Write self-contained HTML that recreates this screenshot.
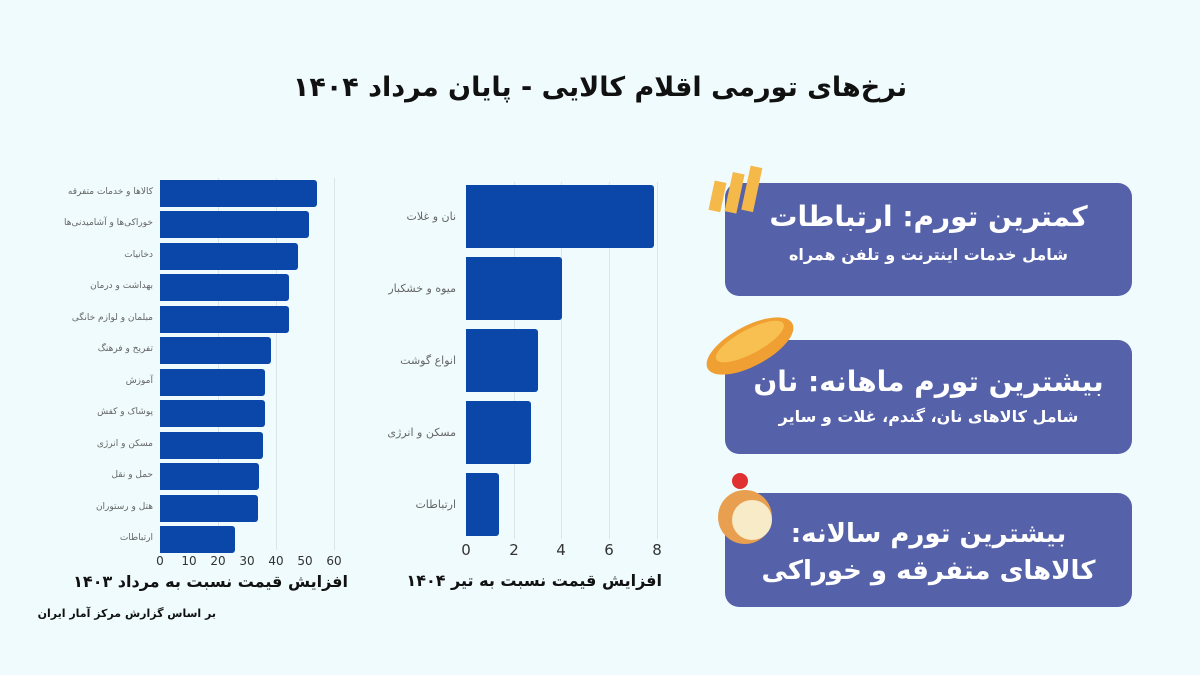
<!DOCTYPE html>
<html><head><meta charset="utf-8"><style>
body{margin:0;width:1200px;height:675px;background:#effbfd;position:relative;overflow:hidden;font-family:"DejaVu Sans","Liberation Sans",sans-serif}
.a{position:absolute}
.bar{position:absolute;background:#0b47a8;border-radius:0 3px 3px 0}
.lbl{position:absolute;font-size:9px;color:#666;text-align:right;direction:rtl;white-space:nowrap;letter-spacing:1px}
.tick{position:absolute;font-size:13px;color:#333;width:30px;text-align:center}
.grid{position:absolute;width:1px;background:#dde3ea}
.card{position:absolute;left:725px;width:407px;background:#5561a9;border-radius:14px;color:#fff;text-align:center;direction:rtl}
.h{font-weight:bold;font-size:28px}
.s{font-size:16px;font-weight:bold}
.ax{position:absolute;font-weight:bold;font-size:16px;direction:rtl;white-space:nowrap;color:#111}
</style></head><body>
<div class="a" style="left:0;width:1200px;top:72px;text-align:center;font-size:27px;font-weight:bold;direction:rtl;color:#111">نرخ‌های تورمی اقلام کالایی - پایان مرداد ۱۴۰۴</div>

<!-- left chart -->
<div class="grid" style="left:218px;top:178px;height:372px"></div>
<div class="grid" style="left:276px;top:178px;height:372px"></div>
<div class="grid" style="left:334px;top:178px;height:372px"></div>
<div class="bar" style="left:160px;top:180px;width:157px;height:27px"></div>
<div class="bar" style="left:160px;top:211px;width:149px;height:27px"></div>
<div class="bar" style="left:160px;top:243px;width:138px;height:27px"></div>
<div class="bar" style="left:160px;top:274px;width:129px;height:27px"></div>
<div class="bar" style="left:160px;top:306px;width:129px;height:27px"></div>
<div class="bar" style="left:160px;top:337px;width:111px;height:27px"></div>
<div class="bar" style="left:160px;top:369px;width:105px;height:27px"></div>
<div class="bar" style="left:160px;top:400px;width:105px;height:27px"></div>
<div class="bar" style="left:160px;top:432px;width:103px;height:27px"></div>
<div class="bar" style="left:160px;top:463px;width:99px;height:27px"></div>
<div class="bar" style="left:160px;top:495px;width:98px;height:27px"></div>
<div class="bar" style="left:160px;top:526px;width:75px;height:27px"></div>
<div class="lbl" style="right:1047px;top:187px">کالاها و خدمات متفرقه</div>
<div class="lbl" style="right:1047px;top:218px">خوراکی‌ها و آشامیدنی‌ها</div>
<div class="lbl" style="right:1047px;top:250px">دخانیات</div>
<div class="lbl" style="right:1047px;top:281px">بهداشت و درمان</div>
<div class="lbl" style="right:1047px;top:313px">مبلمان و لوازم خانگی</div>
<div class="lbl" style="right:1047px;top:344px">تفریح و فرهنگ</div>
<div class="lbl" style="right:1047px;top:376px">آموزش</div>
<div class="lbl" style="right:1047px;top:407px">پوشاک و کفش</div>
<div class="lbl" style="right:1047px;top:439px">مسکن و انرژی</div>
<div class="lbl" style="right:1047px;top:470px">حمل و نقل</div>
<div class="lbl" style="right:1047px;top:502px">هتل و رستوران</div>
<div class="lbl" style="right:1047px;top:533px">ارتباطات</div>
<div class="tick" style="left:145px;top:554px;font-size:12px">0</div>
<div class="tick" style="left:174px;top:554px;font-size:12px">10</div>
<div class="tick" style="left:203px;top:554px;font-size:12px">20</div>
<div class="tick" style="left:232px;top:554px;font-size:12px">30</div>
<div class="tick" style="left:261px;top:554px;font-size:12px">40</div>
<div class="tick" style="left:290px;top:554px;font-size:12px">50</div>
<div class="tick" style="left:319px;top:554px;font-size:12px">60</div>
<div class="ax" style="right:852px;top:572px">افزایش قیمت نسبت به مرداد ۱۴۰۳</div>
<div class="a" style="right:984px;top:607px;font-size:11px;font-weight:bold;direction:rtl;color:#111">بر اساس گزارش مرکز آمار ایران</div>

<!-- right chart -->
<div class="grid" style="left:514px;top:182px;height:357px"></div>
<div class="grid" style="left:561px;top:182px;height:357px"></div>
<div class="grid" style="left:609px;top:182px;height:357px"></div>
<div class="grid" style="left:657px;top:182px;height:357px"></div>
<div class="bar" style="left:466px;top:185px;width:188px;height:63px"></div>
<div class="bar" style="left:466px;top:257px;width:96px;height:63px"></div>
<div class="bar" style="left:466px;top:329px;width:72px;height:63px"></div>
<div class="bar" style="left:466px;top:401px;width:65px;height:63px"></div>
<div class="bar" style="left:466px;top:473px;width:33px;height:63px"></div>
<div class="lbl" style="right:744px;top:210px;font-size:11px">نان و غلات</div>
<div class="lbl" style="right:744px;top:282px;font-size:11px">میوه و خشکبار</div>
<div class="lbl" style="right:744px;top:354px;font-size:11px">انواع گوشت</div>
<div class="lbl" style="right:744px;top:426px;font-size:11px">مسکن و انرژی</div>
<div class="lbl" style="right:744px;top:498px;font-size:11px">ارتباطات</div>
<div class="tick" style="left:451px;top:541px;font-size:15px">0</div>
<div class="tick" style="left:499px;top:541px;font-size:15px">2</div>
<div class="tick" style="left:546px;top:541px;font-size:15px">4</div>
<div class="tick" style="left:594px;top:541px;font-size:15px">6</div>
<div class="tick" style="left:642px;top:541px;font-size:15px">8</div>
<div class="ax" style="right:538px;top:571px">افزایش قیمت نسبت به تیر ۱۴۰۴</div>

<!-- cards -->
<div class="card" style="top:183px;height:113px"><div class="h" style="margin-top:17px">کمترین تورم: ارتباطات</div><div class="s" style="margin-top:12px">شامل خدمات اینترنت و تلفن همراه</div></div>
<div class="card" style="top:340px;height:114px"><div class="h" style="margin-top:25px">بیشترین تورم ماهانه: نان</div><div class="s" style="margin-top:9px">شامل کالاهای نان، گندم، غلات و سایر</div></div>
<div class="card" style="top:493px;height:114px"><div class="h" style="margin-top:23px;line-height:37px;font-size:26px">بیشترین تورم سالانه:<br>کالاهای متفرقه و خوراکی</div></div>

<!-- icons -->
<svg class="a" style="left:705px;top:165px" width="80" height="55"><g fill="#f5b94a" transform="rotate(12 40 27)"><rect x="8" y="22" width="12" height="30"/><rect x="24" y="10" width="12" height="40"/><rect x="40" y="0" width="12" height="45"/></g></svg>
<svg class="a" style="left:700px;top:312px" width="100" height="70"><ellipse cx="50" cy="34" rx="48" ry="20" transform="rotate(-28 50 34)" fill="#f0a032"/><ellipse cx="52" cy="30" rx="38" ry="12" transform="rotate(-28 50 34)" fill="#f8c050"/></svg>
<svg class="a" style="left:700px;top:465px" width="80" height="80"><circle cx="45" cy="52" r="27" fill="#e8a050"/><circle cx="52" cy="55" r="20" fill="#f7ebc8"/><circle cx="40" cy="16" r="8" fill="#e03030"/></svg>
</body></html>
